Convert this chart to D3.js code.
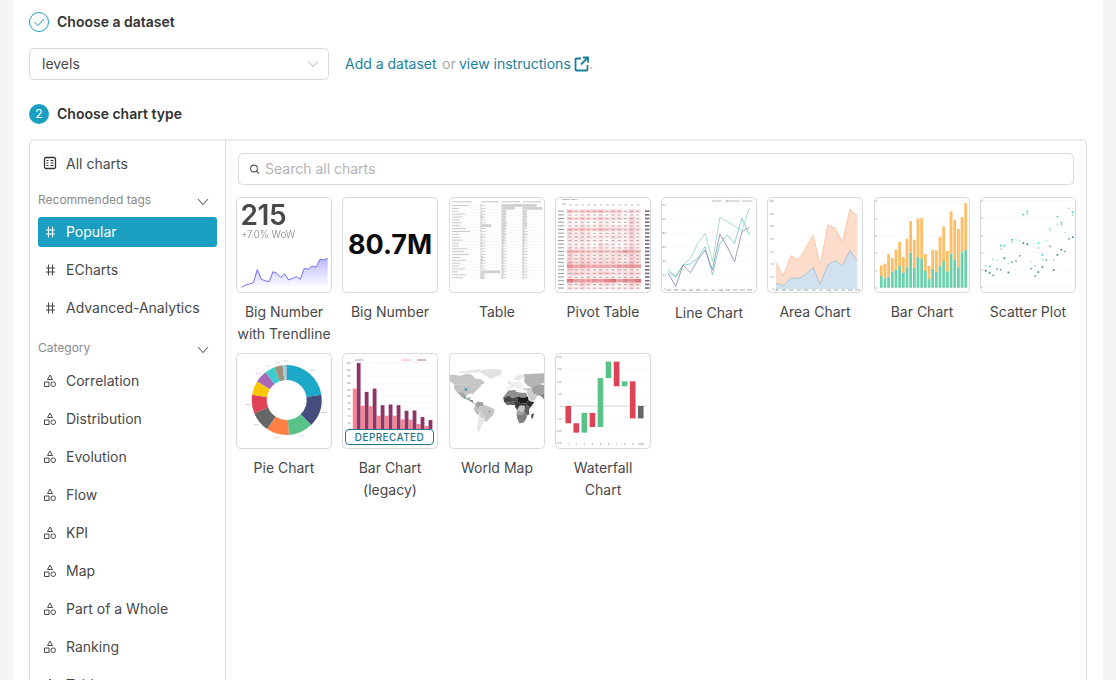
<!DOCTYPE html>
<html>
<head>
<meta charset="utf-8">
<script src="https://cdn.jsdelivr.net/npm/d3@7"></script>
<style>
  html, body { margin: 0; padding: 0; background: #f5f5f5; overflow: hidden; }
  svg { display: block; font-family: Inter, "Noto Sans", sans-serif; }
  .tick line, .domain { display: none; }
</style>
</head>
<body>
<div class="chart-chooser"></div>
<script>
// sidebar + gallery text
const tagItems = ['Popular', 'ECharts', 'Advanced-Analytics'];
const categoryItems = ['Correlation', 'Distribution', 'Evolution', 'Flow', 'KPI', 'Map', 'Part of a Whole', 'Ranking', 'Table'];
const cardNames = [
  ['Big Number', 'with Trendline'], ['Big Number'], ['Table'], ['Pivot Table'],
  ['Line Chart'], ['Area Chart'], ['Bar Chart'], ['Scatter Plot'],
  ['Pie Chart'], ['Bar Chart', '(legacy)'], ['World Map'], ['Waterfall', 'Chart']
];

// trendline thumbnail
const trendValues = [8, 15, 18, 22, 62, 32, 28, 25, 55, 50, 38, 48, 30, 35, 40, 32, 65, 62, 72, 68, 92, 90, 95];

// table thumbnail (share of column filled by the cell bar)
const tableLabels = [.7, .3, .25, .55, .45, .3, .4, .35, .6, .75, .3, .35, .45, .3, .3, .65, .5, .7, .35, .6, .35, .3, .55, .25, .6, .45, .5, .4];
const tableCol1 = [.05, .05, .05, .1, .12, .05, .08, .55, .05, .05, .05, .12, .05, .1, .08, .05, .05, .05, .12, .12, .08, .05, .05, 1, .15, .2];
const tableCol2 = [1, .65, .22, .22, .22, .2, .25, .22, .2, .15, .2, .15, .15, .12, .1, .1, .1, .1, .1, .1, .1, .1, .1, .1, .08, .08];
const tableCol3 = [.7, 1, .22, .2, .22, .15, .2, .22, .12, .1, .15, .1, .12, .1, .08, .08, .08, .08, .08, .08, .08, .08, .08, .08, .06, .06];

// pivot thumbnail, heat per cell 0-9
const pivotCells = [
  [4, 2, 3, 3, 3, 4, 2, 3, 3, 1, 3, 2],
  [1, 0, 1, 1, 0, 1, 0, 1, 1, 0, 1, 0],
  [3, 2, 3, 2, 2, 3, 2, 2, 2, 1, 3, 1],
  [1, 0, 1, 0, 0, 1, 1, 0, 0, 0, 3, 1],
  [1, 1, 2, 1, 1, 2, 1, 1, 1, 1, 2, 1],
  [4, 3, 4, 3, 3, 4, 3, 3, 3, 2, 4, 2],
  [2, 1, 2, 1, 0, 1, 1, 1, 1, 1, 3, 1],
  [2, 2, 2, 2, 1, 2, 1, 2, 2, 1, 3, 1],
  [2, 1, 2, 1, 1, 1, 0, 1, 1, 1, 2, 1],
  [1, 1, 1, 1, 0, 2, 1, 1, 0, 1, 2, 1],
  [2, 1, 2, 1, 1, 2, 1, 1, 1, 1, 3, 1],
  [5, 4, 4, 3, 3, 4, 3, 3, 4, 6, 5, 4],
  [3, 1, 2, 2, 1, 2, 1, 2, 2, 2, 3, 2],
  [3, 2, 3, 2, 2, 2, 2, 2, 2, 1, 3, 2],
  [4, 2, 3, 3, 2, 3, 2, 3, 2, 2, 4, 2],
  [7, 5, 6, 5, 5, 5, 5, 5, 6, 6, 7, 6],
  [3, 2, 2, 2, 1, 2, 1, 1, 2, 2, 2, 1],
  [3, 3, 3, 2, 2, 3, 3, 2, 2, 2, 3, 2],
  [2, 1, 1, 2, 1, 1, 1, 1, 1, 2, 2, 1],
  [9, 6, 6, 6, 7, 6, 8, 9, 6, 8, 7, 9],
  [2, 1, 3, 2, 1, 2, 2, 1, 1, 1, 3, 2],
  [2, 1, 2, 1, 1, 1, 1, 1, 1, 1, 2, 1]
];

// line chart thumbnail
const lineMonths = ['Jan', 'Feb', 'Mar', 'Apr', 'May', 'Jun', 'Jul', 'Aug', 'Sep', 'Oct', 'Nov', 'Dec'];
const lineGreen = [59, 37, 72, 92, 137, 167, 82, 215, 202, 189, 175, 242];
const lineBlue = [52, 35, 72, 75, 92, 127, 42, 137, 162, 137, 212, 162];
const linePurple = [47, 7, 72, 49, 87, 117, 57, 165, 127, 82, 172, 185];

// area chart thumbnail
const areaBlue = [17, 10, 32, 32, 42, 65, 14, 72, 85, 69, 115, 85];
const areaOrange = [62, 29, 68, 55, 80, 97, 58, 120, 97, 73, 125, 134];

// bar chart thumbnail
const barGreen = [35, 28, 33, 48, 53, 65, 45, 61, 105, 59, 92, 86, 50, 26, 56, 47, 65, 80, 49, 102, 83, 61, 106, 113];
const barOrange = [32, 44, 68, 41, 61, 73, 47, 86, 95, 85, 115, 123, 51, 39, 57, 65, 87, 103, 61, 127, 120, 115, 106, 141];

// scatter thumbnail: position on x, value, series
const scatterX = [362, 362, 374, 374, 384, 384, 396, 396, 407, 407, 407, 418, 418, 430, 430, 441, 441, 441, 453, 453, 464, 464, 475, 475, 487, 487, 487, 498, 498, 510, 510, 520, 520, 520, 532, 532, 532, 544, 544, 555, 555, 555, 566, 566, 577, 577, 577, 589, 589, 589, 600, 600, 612, 612, 623, 623, 623];
const scatterY = [64, 49, 62, 42, 83, 35, 81, 55, 125, 114, 52, 124, 87, 70, 44, 142, 135, 75, 142, 78, 139, 94, 218, 132, 227, 219, 129, 77, 55, 64, 33, 132, 117, 45, 97, 84, 60, 140, 81, 177, 171, 122, 81, 51, 212, 189, 97, 194, 187, 112, 164, 107, 237, 145, 225, 216, 150];
const scatterSeries = [1, 3, 0, 3, 1, 2, 4, 2, 0, 1, 2, 0, 3, 4, 3, 0, 1, 2, 4, 2, 4, 2, 0, 3, 0, 1, 3, 4, 2, 1, 2, 0, 1, 3, 0, 1, 3, 4, 2, 4, 1, 2, 1, 3, 0, 1, 3, 0, 1, 3, 4, 2, 1, 2, 0, 1, 3];
const scatterColors = ['#2ad3bd', '#98e4b2', '#6aa3b2', '#2a7f8a', '#b4ebde'];

// pie thumbnail
const pieValues = [24, 16, 12, 11, 10, 9, 7, 6, 5, 4, 1.3, 0.7];
const pieColors = ['#1fa8c9', '#454e7c', '#5ac189', '#ff7f44', '#666666', '#e04355', '#fcc700', '#a868b7', '#3cccCB', '#a38f79', '#8fd3e4', '#a1a6bd'];

// legacy bar thumbnail
const legacyPink = [122, 70, 69, 40, 40, 40, 29, 28, 15, 9];
const legacyPurple = [199, 112, 122, 72, 74, 72, 55, 56, 36, 27];

// world map thumbnail: rough outlines as lon/lat with a grey per shape
const mapShapes = [
  [[-168, 66], [-156, 71], [-141, 70], [-141, 60], [-150, 60], [-165, 55]],
  [[-141, 70], [-125, 70], [-110, 68], [-95, 72], [-85, 70], [-78, 62], [-65, 60], [-56, 52], [-66, 48], [-65, 44], [-75, 45], [-83, 42], [-95, 49], [-123, 49], [-133, 56], [-141, 60]],
  [[-120, 75], [-90, 80], [-65, 83], [-70, 75], [-85, 73], [-110, 73]],
  [[-44, 60], [-22, 70], [-20, 80], [-35, 83], [-60, 81], [-70, 77], [-52, 66]],
  [[-123, 49], [-95, 49], [-83, 42], [-75, 45], [-67, 45], [-70, 41], [-76, 35], [-81, 30], [-80, 25], [-84, 30], [-97, 26], [-106, 32], [-117, 32], [-124, 40]],
  [[-117, 32], [-106, 32], [-97, 26], [-97, 19], [-90, 21], [-87, 21], [-90, 15], [-95, 16], [-105, 20]],
  [[-92, 15], [-88, 16], [-83, 15], [-82, 9], [-77, 8], [-80, 7], [-86, 11]],
  [[-84, 22], [-75, 20], [-78, 20]],
  [[-78, 2], [-77, 8], [-72, 12], [-60, 10], [-60, 2], [-70, 0], [-70, -4]],
  [[-81, -4], [-78, 2], [-70, -4], [-70, -11], [-69, -18], [-76, -14]],
  [[-70, -4], [-70, 0], [-60, 2], [-60, 5], [-50, 2], [-35, -6], [-39, -18], [-48, -26], [-53, -33], [-58, -30], [-58, -20], [-65, -12], [-70, -11]],
  [[-69, -11], [-65, -12], [-58, -20], [-58, -27], [-67, -22], [-69, -18]],
  [[-70, -18], [-67, -22], [-58, -27], [-58, -34], [-65, -42], [-68, -54], [-74, -50], [-72, -30]],
  [[-17, 21], [-10, 30], [-6, 36], [10, 37], [11, 33], [20, 31], [33, 31], [35, 24], [37, 22], [25, 20], [15, 23], [3, 19], [-5, 25], [-12, 21]],
  [[-17, 21], [-12, 21], [-5, 25], [3, 19], [15, 23], [15, 13], [5, 12], [-5, 10], [-15, 11]],
  [[15, 23], [25, 20], [37, 22], [38, 15], [33, 8], [25, 8], [15, 10]],
  [[38, 15], [43, 12], [51, 11], [42, -1], [35, 4], [33, 8]],
  [[-15, 11], [-5, 10], [5, 12], [9, 4], [-3, 5], [-8, 4]],
  [[9, 4], [5, 12], [15, 13], [15, 10], [25, 8], [33, 8], [35, 4], [30, -5], [28, -10], [13, -6], [9, 0]],
  [[13, -6], [19, 3], [30, 3], [30, -8], [28, -12], [22, -11]],
  [[30, -5], [35, 4], [42, -1], [39, -6], [40, -16], [35, -18], [28, -10]],
  [[13, -6], [22, -11], [28, -10], [25, -18], [20, -28], [15, -28], [12, -17]],
  [[12, -17], [25, -18], [28, -10], [35, -18], [33, -26], [27, -34], [18, -35], [15, -28]],
  [[44, -16], [50, -14], [47, -25], [44, -24]],
  [[-10, 37], [-9, 44], [-2, 44], [-4, 48], [5, 53], [10, 55], [20, 55], [28, 45], [26, 40], [22, 37], [15, 40], [8, 44], [0, 40], [-5, 36]],
  [[5, 60], [15, 69], [28, 71], [30, 62], [22, 60], [17, 57], [10, 58]],
  [[-6, 50], [1, 51], [-2, 58], [-6, 56]],
  [[-24, 65], [-14, 65], [-16, 67]],
  [[28, 71], [70, 73], [90, 75], [120, 72], [120, 50], [60, 50], [45, 42], [35, 47], [28, 56], [30, 62]],
  [[26, 40], [44, 42], [48, 30], [58, 25], [52, 16], [43, 12], [35, 28], [35, 36], [27, 37]],
  [[44, 42], [60, 50], [85, 45], [75, 30], [62, 25], [58, 25], [48, 30]],
  [[62, 25], [75, 30], [88, 26], [78, 8], [70, 20]]
];
const mapShades = ['#cfcfcf', '#c6c6c6', '#e8e8e8', '#e2e2e2', '#c2c2c2', '#a6a6a6', '#8a8a8a', '#a0a0a0', '#a4a4a4', '#bcbcbc', '#c4c4c4', '#d0d0d0', '#e8e8e8', '#8e8e8e', '#4a4a4a', '#1f1f1f', '#2e2e2e', '#5c5c5c', '#3a3a3a', '#c6c6c6', '#5f5f5f', '#a0a0a0', '#808080', '#4a4a4a', '#efefef', '#e8e8e8', '#dedede', '#ececec', '#b4b4b4', '#cccccc', '#a0a0a0', '#7a7a7a'];
const mapDotLon = [-98, -47, -101, 72, -68, -64, 5];
const mapDotLat = [38, -10, 20, 20, 6, -30, 46];
const mapDotSize = [1.4, .9, .7, 1.4, .6, .4, .4];

// waterfall thumbnail
const waterfallLabels = ['1', '2', '3', '4', '5', '6', '7', '8', '9', 'Total'];
const waterfallDeltas = [-70, -38, 80, -57, 198, 67, -100, 20, -150];
const waterfallTicks = [200, 150, 100, 50, 0, -50, -100, -150];

const w = 1116;
const h = 680;
const svg = d3.select('.chart-chooser')
  .append('svg')
  .attr('width', w)
  .attr('height', h);

const defs = svg.append('defs');
[['soft', 0.4], ['softer', 0.6]].forEach(b => {
  defs.append('filter').attr('id', b[0])
    .attr('x', '-5%').attr('y', '-5%').attr('width', '110%').attr('height', '110%')
    .append('feGaussianBlur').attr('stdDeviation', b[1]);
});
const trendGrad = defs.append('linearGradient').attr('id', 'trendFill')
  .attr('x1', 0).attr('x2', 0).attr('y1', 0).attr('y2', 1);
trendGrad.append('stop').attr('offset', '0%').attr('stop-color', '#8080ff').attr('stop-opacity', .55);
trendGrad.append('stop').attr('offset', '100%').attr('stop-color', '#8080ff').attr('stop-opacity', 0);

const teal = '#1a9fc0';
const linkTeal = '#1b7f9b';
const textDark = '#323232';
const textBody = '#484848';
const line = '#d9d9de';

function label(x, y, txt, size, color, weight, anchor) {
  return svg.append('text')
    .attr('x', x).attr('y', y - 1) // central baseline sits a pixel low
    .attr('dominant-baseline', 'central')
    .attr('text-anchor', anchor || 'start')
    .attr('font-size', size)
    .attr('font-weight', weight || 400)
    .attr('fill', color)
    .text(txt);
}

function chevron(cx, cy, color) {
  svg.append('path')
    .attr('d', d3.line()([[cx - 5, cy - 3], [cx, cy + 2.5], [cx + 5, cy - 3]]))
    .attr('fill', 'none').attr('stroke', color).attr('stroke-width', 1.1);
}

// page background + header steps
svg.append('rect').attr('x', 13).attr('y', 0).attr('width', 1090).attr('height', h).attr('fill', '#fff');

svg.append('circle').attr('cx', 39).attr('cy', 22).attr('r', 9.5).attr('fill', '#fff').attr('stroke', teal).attr('stroke-width', 1);
svg.append('path').attr('d', d3.line()([[34.5, 22], [38, 25.7], [44, 18.5]])).attr('fill', 'none').attr('stroke', teal).attr('stroke-width', 1);
label(57, 22, 'Choose a dataset', 14, textDark, 600);

svg.append('rect').attr('x', 29.5).attr('y', 48.5).attr('width', 299).attr('height', 31).attr('rx', 4).attr('fill', '#fff').attr('stroke', line);
label(42, 64, 'levels', 14, textBody);
chevron(313, 64, '#c4c4c4');

label(345, 64, 'Add a dataset', 14, linkTeal);
label(442, 64, 'or', 14, '#a8a8a8');
label(459, 64, 'view instructions', 14, linkTeal);
svg.append('path')
  .attr('d', 'M581 58.5h-4.5a1 1 0 0 0 -1 1v10a1 1 0 0 0 1 1h10a1 1 0 0 0 1 -1v-4.5M583 57.5h5v5M588 57.5l-7 7')
  .attr('fill', 'none').attr('stroke', linkTeal).attr('stroke-width', 1.8);
label(589, 64, '.', 14, '#a8a8a8');

svg.append('circle').attr('cx', 39).attr('cy', 114).attr('r', 10).attr('fill', teal);
label(39, 114, '2', 12, '#fff', 400, 'middle');
label(57, 114, 'Choose chart type', 14, textDark, 600);

// outer panel
svg.append('path')
  .attr('d', 'M29.5 690V144a4 4 0 0 1 4 -4H1082.5a4 4 0 0 1 4 4V690')
  .attr('fill', '#fff').attr('stroke', line);
svg.append('line').attr('x1', 225.5).attr('x2', 225.5).attr('y1', 140).attr('y2', h).attr('stroke', line);

// sidebar
const hashIcon = 'M-4 -2h9M-4 2h9M-1.5 -5.5v11M2.5 -5.5v11';
const shapesIcon = 'M0 -6l2.5 4.5h-5zM-5.5 1h4.5v4.5h-4.5z';

svg.append('g').attr('transform', 'translate(50,163)').call(g => {
  g.append('rect').attr('x', -5.5).attr('y', -5.5).attr('width', 11).attr('height', 11).attr('rx', 1.5).attr('fill', 'none').attr('stroke', textDark).attr('stroke-width', 1.3);
  g.append('path').attr('d', 'M-3.5 -2.5h2M0.5 -2.5h3M-3.5 0h2M0.5 0h3M-3.5 2.5h2M0.5 2.5h3').attr('stroke', textDark).attr('stroke-width', 1);
});
label(66, 164, 'All charts', 14, textBody);

label(38, 200, 'Recommended tags', 12, '#8a8a8a');
chevron(203, 202, '#666');
svg.append('rect').attr('x', 38).attr('y', 217).attr('width', 179).attr('height', 30).attr('rx', 3).attr('fill', teal);

const tagY = d3.scalePoint().domain(tagItems).range([232, 308]);
tagItems.forEach((d, i) => {
  const col = i === 0 ? '#fff' : textBody;
  svg.append('path').attr('transform', `translate(50,${tagY(d)})`).attr('d', hashIcon)
    .attr('fill', 'none').attr('stroke', col).attr('stroke-width', 1.1);
  label(66, tagY(d), d, 14, col);
});

label(38, 348, 'Category', 12, '#8a8a8a');
chevron(203, 350, '#666');

const categoryY = d3.scalePoint().domain(categoryItems).range([381, 685]);
categoryItems.forEach(d => {
  const g = svg.append('g').attr('transform', `translate(50,${categoryY(d)})`);
  g.append('path').attr('d', shapesIcon).attr('fill', 'none').attr('stroke', textBody).attr('stroke-width', 1);
  g.append('circle').attr('cx', 3.2).attr('cy', 3.2).attr('r', 2.3).attr('fill', 'none').attr('stroke', textBody).attr('stroke-width', 1);
  label(66, categoryY(d), d, 14, textBody);
});

// search box
svg.append('rect').attr('x', 238.5).attr('y', 153.5).attr('width', 835).attr('height', 31).attr('rx', 4).attr('fill', '#fff').attr('stroke', line);
svg.append('circle').attr('cx', 254).attr('cy', 168.5).attr('r', 3.4).attr('fill', 'none').attr('stroke', '#555').attr('stroke-width', 1.1);
svg.append('path').attr('d', 'M256.5 171l2.6 2.6').attr('stroke', '#555').attr('stroke-width', 1.2);
label(265, 169, 'Search all charts', 14, '#b4b4b4');

// card slots
const cardX = d3.scaleOrdinal().domain(d3.range(8)).range([236, 342, 449, 555, 661, 767, 874, 980]);
const cardSize = 96;
const cardHolder = svg.append('g');

cardNames.forEach((lines, i) => {
  const x = cardX(i % 8);
  const y = i < 8 ? 197 : 353;
  const yLabel = i < 8 ? 312 : 468;
  defs.append('clipPath').attr('id', 'clip' + i)
    .append('rect').attr('x', x + 1).attr('y', y + 1).attr('width', cardSize - 2).attr('height', cardSize - 2).attr('rx', 3);
  cardHolder.append('rect')
    .attr('x', x + .5).attr('y', y + .5).attr('width', cardSize - 1).attr('height', cardSize - 1)
    .attr('rx', 4).attr('fill', '#fff').attr('stroke', line);
  lines.forEach((t, j) => {
    label(x + cardSize / 2, yLabel + j * 22 + (i === 4 ? 1 : 0), t, 14, textBody, 400, 'middle');
  });
});

function thumb(i, blur) {
  return svg.append('g').attr('clip-path', `url(#clip${i})`)
    .append('g').attr('filter', `url(#${blur || 'soft'})`);
}

function tinyAxis(g, axis, x, y) {
  g.append('g').attr('transform', `translate(${x},${y})`).call(axis)
    .call(a => a.selectAll('text').attr('font-size', 2.6).attr('fill', '#888').attr('font-family', 'Inter'));
}

// Big Number with Trendline
{
  const g = thumb(0);
  g.append('text').attr('x', 240.5).attr('y', 225).attr('font-size', 28).attr('font-weight', 600).attr('fill', '#484848').attr('letter-spacing', -0.4).text('215');
  g.append('text').attr('x', 241).attr('y', 237.5).attr('font-size', 9.7).attr('font-weight', 300).attr('fill', '#808080').text('+7.0% WoW');
  const xT = d3.scaleLinear().domain([0, trendValues.length - 1]).range([241.7, 327.7]);
  const yT = d3.scaleLinear().domain([0, 100]).range([290, 256.7]);
  g.append('path').datum(trendValues)
    .attr('d', d3.area().x((d, i) => xT(i)).y0(288).y1(d => yT(d)))
    .attr('fill', 'url(#trendFill)');
  g.append('path').datum(trendValues)
    .attr('d', d3.line().x((d, i) => xT(i)).y(d => yT(d)))
    .attr('fill', 'none').attr('stroke', '#6f6ff2').attr('stroke-width', 1);
}

// Big Number
svg.append('text').attr('x', 390).attr('y', 244).attr('text-anchor', 'middle').attr('dominant-baseline', 'central')
  .attr('font-size', 27).attr('font-weight', 700).attr('fill', '#0a0a0a').text('80.7M');

// Table
{
  const g = thumb(2, 'softer');
  const rowY = d3.scaleBand().domain(d3.range(tableCol1.length)).range([204, 279]);
  [[480.5, 19.5, tableCol1], [501.5, 20.5, tableCol2], [522.5, 20, tableCol3]].forEach(col => {
    g.append('g').selectAll('rect').data(col[2]).enter().append('rect')
      .attr('x', col[0]).attr('y', (d, i) => rowY(i))
      .attr('width', d => d * col[1]).attr('height', rowY.bandwidth())
      .attr('fill', '#cdcdcd');
    g.append('g').selectAll('rect').data(col[2]).enter().append('rect')
      .attr('x', col[0]).attr('y', (d, i) => rowY(i) + 1)
      .attr('width', 5).attr('height', 1).attr('fill', '#d2d2d2');
  });
  g.selectAll('rect.name').data(tableLabels.slice(0, tableCol1.length)).enter().append('rect')
    .attr('class', 'name').attr('x', 452).attr('y', (d, i) => rowY(i) + 1)
    .attr('width', d => d * 24).attr('height', 1).attr('fill', '#cacaca');
  g.selectAll('line.row').data(d3.range(tableCol1.length + 1)).enter().append('line')
    .attr('class', 'row').attr('x1', 451).attr('x2', 543)
    .attr('y1', d => d === tableCol1.length ? 279 : rowY(d)).attr('y2', d => d === tableCol1.length ? 279 : rowY(d))
    .attr('stroke', '#eee').attr('stroke-width', .4);
  [[452, 20], [481, 18], [502, 18], [523, 18]].forEach(c => {
    g.append('rect').attr('x', c[0]).attr('y', 201.3).attr('width', c[1]).attr('height', 1).attr('fill', '#c4c4c4');
  });
}

// Pivot Table
{
  const g = thumb(3, 'softer');
  const colX = d3.scaleBand().domain(d3.range(12)).range([567, 641]);
  const rowY = d3.scaleBand().domain(d3.range(pivotCells.length)).range([209.5, 290]);
  const heat = d3.scaleLinear().domain([0, 9]).range(['#ffffff', '#ec6a70']);
  pivotCells.forEach((row, r) => {
    g.append('g').selectAll('rect').data(row).enter().append('rect')
      .attr('x', (d, c) => colX(c)).attr('y', rowY(r))
      .attr('width', colX.bandwidth()).attr('height', rowY.bandwidth())
      .attr('fill', d => heat(d));
    g.append('g').selectAll('rect').data(row).enter().append('rect')
      .attr('x', (d, c) => colX(c) + 1.4).attr('y', rowY(r) + 1.4)
      .attr('width', 3).attr('height', .9).attr('fill', '#b3a3a8');
    g.append('rect').attr('x', 558).attr('y', rowY(r) + 1.2).attr('width', 6).attr('height', 1).attr('fill', '#999');
    g.append('rect').attr('x', 645).attr('y', rowY(r) + .9).attr('width', 4.5).attr('height', 1.6).attr('fill', '#77697d');
  });
  colX.domain().forEach(c => {
    g.append('rect').attr('x', colX(c) + 2).attr('y', 204.5).attr('width', 2.5).attr('height', 1).attr('fill', '#bbb');
  });
  g.append('rect').attr('x', 562).attr('y', 199).attr('width', 8).attr('height', 1).attr('fill', '#bbb');
  g.append('rect').attr('x', 571).attr('y', 199).attr('width', 6).attr('height', 1).attr('fill', '#bbb');
  g.append('rect').attr('x', 562).attr('y', 203.5).attr('width', 4).attr('height', 1).attr('fill', '#bbb');
}

// Line Chart
{
  const g = thumb(4);
  const xL = d3.scalePoint().domain(lineMonths).range([668.3, 749.3]);
  const yL = d3.scaleLinear().domain([0, 252]).range([289, 205]);
  const ticks = [0, 42, 84, 126, 168, 210, 252];
  g.selectAll('line.grid').data(ticks).enter().append('line').attr('class', 'grid')
    .attr('x1', 667).attr('x2', 751).attr('y1', d => yL(d)).attr('y2', d => yL(d))
    .attr('stroke', '#f0f0f0').attr('stroke-width', .5);
  tinyAxis(g, d3.axisLeft(yL).tickValues(ticks).tickSize(0).tickPadding(1), 667, 0);
  tinyAxis(g, d3.axisBottom(xL).tickSize(0).tickPadding(.6), 0, 289);
  [[lineGreen, '#8ad3bd'], [lineBlue, '#62bdce'], [linePurple, '#7d7fa0']].forEach(s => {
    g.append('path').datum(s[0])
      .attr('d', d3.line().x((d, i) => xL(lineMonths[i])).y(d => yL(d)))
      .attr('fill', 'none').attr('stroke', s[1]).attr('stroke-width', .75);
  });
  [[713, '#62bdce', 7], [727, '#7d7fa0', 11], [743, '#8ad3bd', 8]].forEach(l => {
    g.append('circle').attr('cx', l[0]).attr('cy', 201).attr('r', .9).attr('fill', 'none').attr('stroke', l[1]).attr('stroke-width', .5);
    g.append('rect').attr('x', l[0] + 1.5).attr('y', 200.5).attr('width', l[2]).attr('height', 1).attr('fill', '#bbb');
  });
}

// Area Chart
{
  const g = thumb(5);
  const xA = d3.scalePoint().domain(lineMonths).range([776, 857.3]);
  const yA = d3.scaleLinear().domain([0, 264]).range([289, 201]);
  const stack = d3.stack().keys(['blue', 'orange'])(areaBlue.map((d, i) => ({ blue: d, orange: areaOrange[i] })));
  const area = d3.area().x((d, i) => xA(lineMonths[i])).y0(d => yA(d[0])).y1(d => yA(d[1]));
  [[stack[1], '#fcdccb', '#f9b68f'], [stack[0], '#d1e1ee', '#8fb3cf']].forEach(s => {
    g.append('path').datum(s[0]).attr('d', area).attr('fill', s[1]);
    g.append('path').datum(s[0]).attr('d', area.lineY1())
      .attr('fill', 'none').attr('stroke', s[2]).attr('stroke-width', .7);
  });
  const ticks = [0, 38, 76, 113, 151, 189, 226, 264];
  tinyAxis(g, d3.axisLeft(yA).tickValues(ticks).tickSize(0).tickPadding(1), 775, 0);
  tinyAxis(g, d3.axisBottom(xA).tickSize(0).tickPadding(.6), 0, 289);
}

// Bar Chart
{
  const g = thumb(6);
  const idx = d3.range(barGreen.length);
  const xB = d3.scaleBand().domain(idx).range([879, 968]).padding(.24);
  const yB = d3.scaleLinear().domain([0, 263]).range([287.7, 200]);
  const ticks = [0, 52, 104, 156, 208, 260];
  g.selectAll('line.grid').data(ticks).enter().append('line').attr('class', 'grid')
    .attr('x1', 878).attr('x2', 968).attr('y1', d => yB(d)).attr('y2', d => yB(d))
    .attr('stroke', '#eee').attr('stroke-width', .5);
  g.selectAll('rect.orange').data(idx).enter().append('rect').attr('class', 'orange')
    .attr('x', d => xB(d)).attr('width', xB.bandwidth())
    .attr('y', d => yB(barGreen[d] + barOrange[d]))
    .attr('height', d => yB(0) - yB(barOrange[d]))
    .attr('fill', '#ffbd66');
  g.selectAll('rect.green').data(idx).enter().append('rect').attr('class', 'green')
    .attr('x', d => xB(d)).attr('width', xB.bandwidth())
    .attr('y', d => yB(barGreen[d]))
    .attr('height', d => yB(0) - yB(barGreen[d]))
    .attr('fill', '#6ccfae');
  tinyAxis(g, d3.axisLeft(yB).tickValues(ticks).tickSize(0).tickPadding(1), 878, 0);
}

// Scatter Plot
{
  const g = thumb(7);
  const xS = d3.scaleLinear().domain([362, 623]).range([985.7, 1072.7]);
  const yS = d3.scaleLinear().domain([0, 262]).range([287, 200]);
  const ticks = [0, 52, 104, 156, 208, 260];
  g.selectAll('line.grid').data(ticks).enter().append('line').attr('class', 'grid')
    .attr('x1', 984).attr('x2', 1076).attr('y1', d => yS(d)).attr('y2', d => yS(d))
    .attr('stroke', '#f2f2f2').attr('stroke-width', .5);
  tinyAxis(g, d3.axisLeft(yS).tickValues(ticks).tickSize(0).tickPadding(1), 984, 0);
  g.selectAll('rect.pt').data(scatterX).enter().append('rect').attr('class', 'pt')
    .attr('x', d => xS(d) - .8).attr('y', (d, i) => yS(scatterY[i]) - .8)
    .attr('width', 1.6).attr('height', 1.6)
    .attr('fill', (d, i) => scatterColors[scatterSeries[i]]);
}

// Pie Chart
{
  const g = thumb(8).append('g').attr('transform', 'translate(286.7,400)');
  const arcs = d3.pie().sort(null)(pieValues);
  g.selectAll('path').data(arcs).enter().append('path')
    .attr('d', d3.arc().innerRadius(20).outerRadius(35))
    .attr('fill', (d, i) => pieColors[i]);
  // pale slice captions outside the ring, too small to read
  const outer = d3.arc().innerRadius(39).outerRadius(39);
  g.selectAll('rect').data(arcs).enter().append('rect')
    .attr('x', d => outer.centroid(d)[0] - 2.5).attr('y', d => outer.centroid(d)[1] - .5)
    .attr('width', 5).attr('height', 1)
    .attr('fill', (d, i) => pieColors[i]).attr('opacity', .3);
}

// Bar Chart (legacy)
{
  const g = thumb(9);
  const xG = d3.scaleBand().domain(d3.range(legacyPink.length)).range([352.7, 432.5]).paddingInner(0);
  const xI = d3.scaleBand().domain(['pink', 'purple']).range([0, xG.bandwidth()]).padding(.03);
  const yG = d3.scaleLinear().domain([0, 200]).range([429, 362.7]);
  const ticks = d3.range(0, 201, 20);
  g.selectAll('line.grid').data(ticks).enter().append('line').attr('class', 'grid')
    .attr('x1', 352).attr('x2', 434).attr('y1', d => yG(d)).attr('y2', d => yG(d))
    .attr('stroke', '#efefef').attr('stroke-width', .5);
  tinyAxis(g, d3.axisLeft(yG).tickValues(ticks).tickSize(0).tickPadding(1), 352, 0);
  g.selectAll('rect.pink').data(legacyPink).enter().append('rect').attr('class', 'pink')
    .attr('x', (d, i) => xG(i) + xI('pink')).attr('width', xI.bandwidth())
    .attr('y', d => yG(d)).attr('height', d => yG(0) - yG(d)).attr('fill', '#ff7f8c');
  g.selectAll('rect.purple').data(legacyPurple).enter().append('rect').attr('class', 'purple')
    .attr('x', (d, i) => xG(i) + xI('purple')).attr('width', xI.bandwidth())
    .attr('y', d => yG(d)).attr('height', d => yG(0) - yG(d)).attr('fill', '#8e3566');
  [[355, '#aaa', 8], [402, '#ffa4ad', 9], [417, '#ae6f92', 9]].forEach(l => {
    g.append('rect').attr('x', l[0]).attr('y', 359.5).attr('width', l[2]).attr('height', 1).attr('fill', l[1]);
  });
}
svg.append('rect').attr('x', 345.5).attr('y', 429.5).attr('width', 88).attr('height', 15).attr('rx', 3.5).attr('fill', '#fff').attr('stroke', '#1f7490').attr('stroke-width', 1);
label(389.5, 437.5, 'DEPRECATED', 10, '#1f7490', 500, 'middle').attr('letter-spacing', 0.4);

// World Map
{
  const g = thumb(10);
  const projection = d3.geoEquirectangular().scale(26.4).translate([511, 407]).precision(10);
  const path = d3.geoPath(projection);
  g.selectAll('path').data(mapShapes).enter().append('path')
    .attr('d', d => path({ type: 'LineString', coordinates: d.concat([d[0]]) }))
    .attr('fill', (d, i) => mapShades[i]);
  g.selectAll('circle').data(mapDotLon).enter().append('circle')
    .attr('cx', (d, i) => projection([d, mapDotLat[i]])[0])
    .attr('cy', (d, i) => projection([d, mapDotLat[i]])[1])
    .attr('r', (d, i) => mapDotSize[i])
    .attr('fill', '#4d9ea8');
}

// Waterfall Chart
{
  const g = thumb(11);
  let running = 0;
  const steps = waterfallDeltas.map(d => {
    const s = { from: running, to: running + d, color: d < 0 ? '#e04355' : '#5ac189' };
    running += d;
    return s;
  });
  steps.push({ from: 0, to: running, color: '#666666' });
  const xW = d3.scaleBand().domain(waterfallLabels).range([563, 646]).padding(.3);
  const yW = d3.scaleLinear().domain([-150, 200]).range([443, 356.7]);
  g.selectAll('line.grid').data(waterfallTicks).enter().append('line').attr('class', 'grid')
    .attr('x1', 562).attr('x2', 647).attr('y1', d => yW(d)).attr('y2', d => yW(d))
    .attr('stroke', d => d === 0 ? '#aaa' : '#f0f0f0').attr('stroke-width', .5);
  tinyAxis(g, d3.axisLeft(yW).tickValues(waterfallTicks).tickSize(0).tickPadding(.6), 562, 0);
  tinyAxis(g, d3.axisBottom(xW).tickSize(0).tickPadding(.6), 0, 443);
  g.selectAll('rect.step').data(steps).enter().append('rect').attr('class', 'step')
    .attr('x', (d, i) => xW(waterfallLabels[i])).attr('width', xW.bandwidth())
    .attr('y', d => yW(Math.max(d.from, d.to)))
    .attr('height', d => Math.abs(yW(d.from) - yW(d.to)))
    .attr('fill', d => d.color);
}
</script>
</body>
</html>
